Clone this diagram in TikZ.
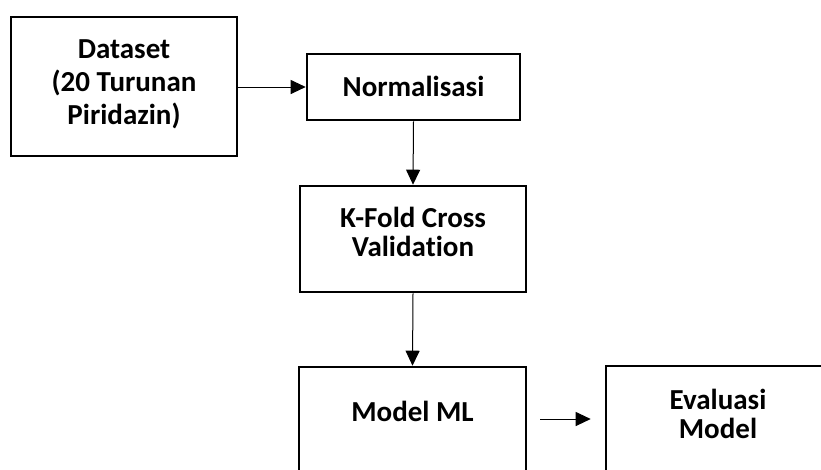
\documentclass[tikz,border=0pt]{standalone}
\usepackage{fontspec}
\setmainfont{Carlito}[Ligatures=NoCommon]
\usetikzlibrary{arrows.meta}
\begin{document}
\begin{tikzpicture}[x=1pt,y=-1pt,
  boxstyle/.style={draw=black, line width=2.6pt, fill=white, inner sep=0pt},
  txt/.style={font=\bfseries\fontsize{29}{29.5}\selectfont, align=center, inner sep=0pt},
  arr/.style={draw=black, line width=1pt, -{Triangle[length=15pt,width=14pt]}}]
\useasboundingbox (0,0) rectangle (821,469);
\clip (0,0) rectangle (821,469);
\fill[white] (0,0) rectangle (821,469);
% boxes
\node[boxstyle, minimum width=226pt, minimum height=139pt] (ds) at (124,86.5) {};
\node[txt, font=\bfseries\fontsize{29}{33}\selectfont] at (124,84) {Dataset\\(20 Turunan\\Piridazin)};
\node[boxstyle, minimum width=213pt, minimum height=66pt] (norm) at (413.5,87) {};
\node[txt] at (413.5,86) {Normalisasi};
\node[boxstyle, minimum width=226pt, minimum height=106pt] (kf) at (413,239) {};
\node[txt] at (413,232) {K-Fold Cross\\Validation};
\node[boxstyle, minimum width=227pt, minimum height=140pt] (ml) at (412.5,437) {};
\node[txt] at (412.5,411) {Model ML};
\node[boxstyle, minimum width=224pt, minimum height=140pt] (ev) at (718,436) {};
\node[txt] at (718,414) {Evaluasi\\Model};
% connectors
\draw[arr] (ds.east |- 0,87) -- (norm.west);
\draw[arr] (norm.south) -- (kf.north);
\draw[arr] (kf.south) -- (ml.north);
\draw[arr, shorten <=13pt, shorten >=14pt] (ml.east |- 0,419) -- (ev.west |- 0,419);
\end{tikzpicture}
\end{document}
